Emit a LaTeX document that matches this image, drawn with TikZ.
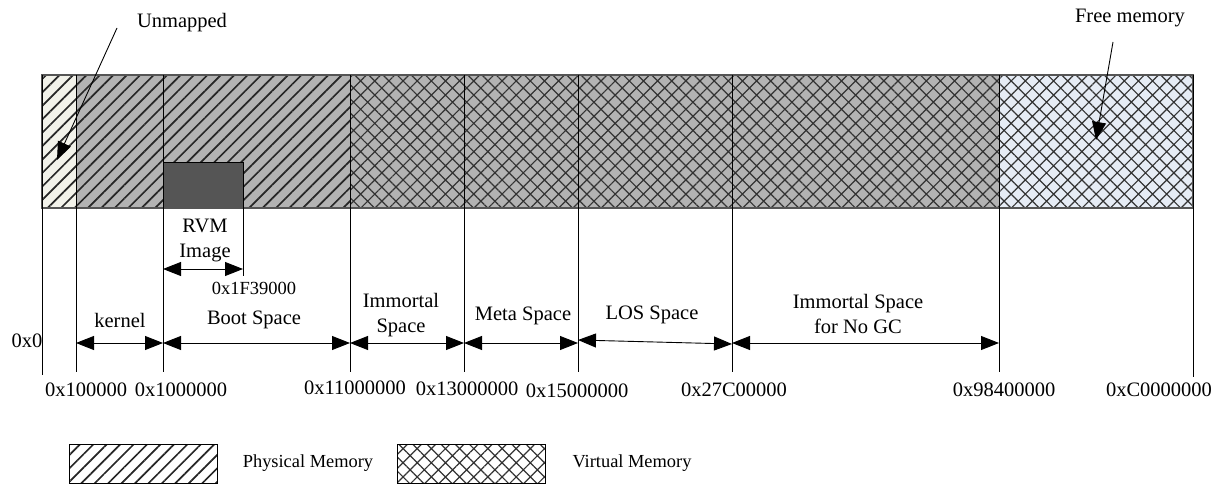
\documentclass[tikz,border=0pt]{standalone}
\usepackage{fontspec}
\setmainfont{Liberation Serif}
\usetikzlibrary{patterns.meta,arrows.meta}
\definecolor{segfill}{HTML}{B3B3B3}
\definecolor{unmapfill}{HTML}{F2F2EA}
\definecolor{freefill}{HTML}{E6ECF5}
\definecolor{rvmfill}{HTML}{555555}
\definecolor{edgegray}{HTML}{555555}
\tikzset{
  phys/.style={pattern={Lines[angle=45,distance=9.5pt,line width=1.7pt]},pattern color=black!85},
  virt/.style={pattern={Hatch[angle=45,distance=10pt,line width=1.2pt]},pattern color=black!80},
  tickline/.style={draw=black,line width=0.8pt},
  dimarrow/.style={{Triangle[length=18pt,width=14pt]}-{Triangle[length=18pt,width=14pt]},line width=0.9pt},
  callout/.style={-{Triangle[length=18pt,width=14pt]},line width=0.9pt},
  lbl/.style={font=\fontsize{20.5}{25}\selectfont,inner sep=0pt,align=center},
  smalllbl/.style={font=\fontsize{18.5}{22}\selectfont,inner sep=0pt},
  leglbl/.style={font=\fontsize{18.4}{22}\selectfont,inner sep=0pt},
}
\begin{document}
\begin{tikzpicture}[x=1pt,y=-1pt]
\useasboundingbox (0,0) rectangle (1226,484);

% ---- memory bar: background fills ----
\fill[unmapfill] (42,75) rectangle (76,208);
\fill[segfill]   (76,75) rectangle (999,208);
\fill[freefill]  (999,75) rectangle (1193,208);
% physical (hatched) and virtual (cross-hatched) parts
\path[phys] (42,75) rectangle (350,208);
\path[virt] (350,75) rectangle (1193,208);
% RVM image block inside the boot space
\draw[fill=rvmfill,line width=0.8pt] (163,162) rectangle (243,208);
% outline of the bar
\draw[edgegray,line width=1.5pt] (42,75) rectangle (1193,208);

% ---- boundaries, continued below the bar ----
\draw[tickline] (42,75) -- (42,375);
\draw[tickline] (76,75) -- (76,372);
\draw[tickline] (163,75) -- (163,372);
\draw[tickline] (243,162) -- (243,276);
\draw[tickline] (350,75) -- (350,372);
\draw[tickline] (464,75) -- (464,372);
\draw[tickline] (578,75) -- (578,372);
\draw[tickline] (732,75) -- (732,372);
\draw[tickline] (999,75) -- (999,372);
\draw[tickline] (1193,75) -- (1193,377);

% ---- dimension arrow end points ----
\coordinate (b1) at (76,343);
\coordinate (b2) at (163,343);
\coordinate (b3) at (350,343);
\coordinate (b4) at (464,343);
\coordinate (b5) at (578,343);
\coordinate (b5l) at (578,340);
\coordinate (b6) at (732,344);
\coordinate (b6r) at (732,343);
\coordinate (b7) at (999,343);
\coordinate (r0) at (163,269);
\coordinate (r1) at (243,269);

\draw[dimarrow] (b1) -- (b2);
\draw[dimarrow] (b2) -- (b3);
\draw[dimarrow] (b3) -- (b4);
\draw[dimarrow] (b4) -- (b5);
\draw[dimarrow] (b5l) -- (b6);
\draw[dimarrow] (b6r) -- (b7);
\draw[dimarrow] (r0) -- (r1);

% ---- region names ----
\node[lbl] (rvm)    at (205,240.5) {RVM\\Image};
\node[smalllbl] (rvmend) at (254,288) {0x1F39000};
\node[lbl] (kernel) at (120,320) {kernel};
\node[lbl] (boot)   at (254,320) {Boot Space};
\node[lbl] (immo)   at (401,315) {Immortal\\Space};
\node[lbl] (meta)   at (523,316) {Meta Space};
\node[lbl] (los)    at (652,315) {LOS Space};
\node[lbl] (nogc)   at (858,314) {Immortal Space\\for No GC};

% ---- addresses ----
\node[lbl] (h0) at (27,341)   {0x0};
\node[lbl] (h1) at (86,390)   {0x100000};
\node[lbl] (h2) at (181,390)  {0x1000000};
\node[lbl] (h3) at (355,388)  {0x11000000};
\node[lbl] (h4) at (467,389)  {0x13000000};
\node[lbl] (h5) at (577,391)  {0x15000000};
\node[lbl] (h6) at (734,390)  {0x27C00000};
\node[lbl] (h7) at (1004,390) {0x98400000};
\node[lbl] (h8) at (1159,390) {0xC0000000};

% ---- callouts ----
\node[lbl] (unm) at (182,23) {Unmapped};
\coordinate (unmfrom) at (117,28);
\coordinate (unmto) at (57,160);
\draw[callout] (unmfrom) -- (unmto);

\node[lbl] (free) at (1130,18) {Free memory};
\coordinate (freefrom) at (1113,42);
\coordinate (freeto) at (1096,140);
\draw[callout] (freefrom) -- (freeto);

% ---- legend ----
\path[phys] (69,444) rectangle (217,483);
\draw[line width=0.8pt] (69,444) rectangle (217,483);
\node[leglbl] (lphys) at (308,463) {Physical Memory};
\path[virt] (397,444) rectangle (545,483);
\draw[line width=0.8pt] (397,444) rectangle (545,483);
\node[leglbl] (lvirt) at (632,463) {Virtual Memory};
\end{tikzpicture}
\end{document}
